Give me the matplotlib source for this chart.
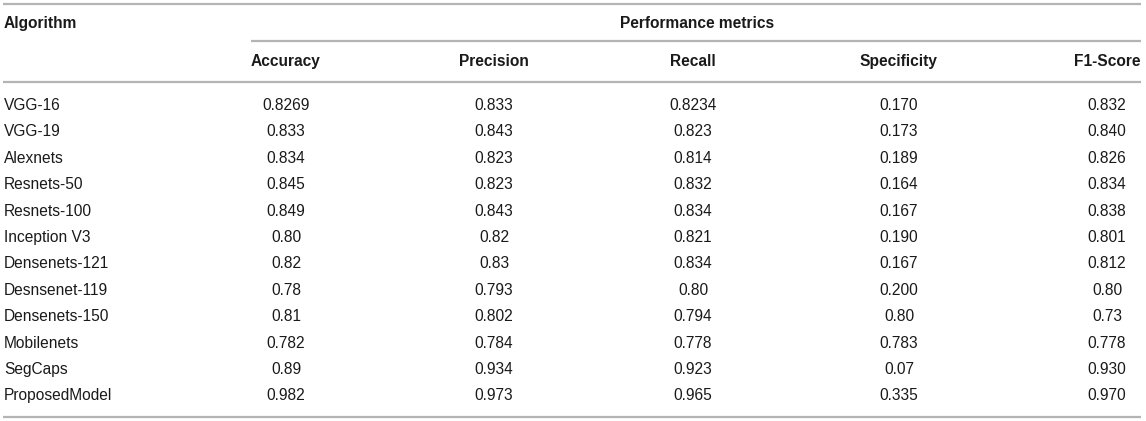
import matplotlib
matplotlib.use("Agg")
import matplotlib.pyplot as plt

algorithms = ["VGG-16", "VGG-19", "Alexnets", "Resnets-50", "Resnets-100", "Inception V3",
              "Densenets-121", "Desnsenet-119", "Densenets-150", "Mobilenets", "SegCaps", "ProposedModel"]
metrics = ["Accuracy", "Precision", "Recall", "Specificity", "F1-Score"]
accuracy = ["0.8269", "0.833", "0.834", "0.845", "0.849", "0.80", "0.82", "0.78", "0.81", "0.782", "0.89", "0.982"]
precision = ["0.833", "0.843", "0.823", "0.823", "0.843", "0.82", "0.83", "0.793", "0.802", "0.784", "0.934", "0.973"]
recall = ["0.8234", "0.823", "0.814", "0.832", "0.834", "0.821", "0.834", "0.80", "0.794", "0.778", "0.923", "0.965"]
specificity = ["0.170", "0.173", "0.189", "0.164", "0.167", "0.190", "0.167", "0.200", "0.80", "0.783", "0.07", "0.335"]
f1_score = ["0.832", "0.840", "0.826", "0.834", "0.838", "0.801", "0.812", "0.80", "0.73", "0.778", "0.930", "0.970"]

columns = [accuracy, precision, recall, specificity, f1_score]

W, H = 1146, 421
fig = plt.figure(figsize=(W / 100, H / 100), dpi=100)
ax = fig.add_axes([0, 0, 1, 1])
ax.set_xlim(0, W)
ax.set_ylim(H, 0)
ax.axis("off")

fam = ['Liberation Sans', 'DejaVu Sans']
plt.rcParams['font.family'] = fam
fs = 11.2
tc = "#1a1a1a"
lc = "#b4b4b4"
lw = 1.6

col_x = [286, 494, 693, 899, 1107]

# rules
ax.plot([3, 1141], [4, 4], color=lc, lw=lw, solid_capstyle="butt")
ax.plot([251, 1141], [41, 41], color=lc, lw=lw, solid_capstyle="butt")
ax.plot([3, 1141], [82, 82], color=lc, lw=lw, solid_capstyle="butt")
ax.plot([3, 1141], [417, 417], color=lc, lw=lw, solid_capstyle="butt")

ax.text(4, 28, "Algorithm", fontsize=fs, fontweight="bold", color=tc, ha="left", va="baseline", family=fam)
ax.text(697, 28, "Performance metrics", fontsize=fs, fontweight="bold", color=tc, ha="center",
        va="baseline", family=fam)
for m, x in zip(metrics, col_x):
    ax.text(x, 66, m, fontsize=fs, fontweight="bold", color=tc, ha="center", va="baseline", family=fam)

y0, dy = 110, 26.4
for i, name in enumerate(algorithms):
    y = y0 + i * dy
    ax.text(4, y, name, fontsize=fs, color=tc, ha="left", va="baseline", family=fam)
    for vals, x in zip(columns, col_x):
        ax.text(x, y, vals[i], fontsize=fs, color=tc, ha="center", va="baseline", family=fam)

fig.savefig("out.png", dpi=100, facecolor="white")
